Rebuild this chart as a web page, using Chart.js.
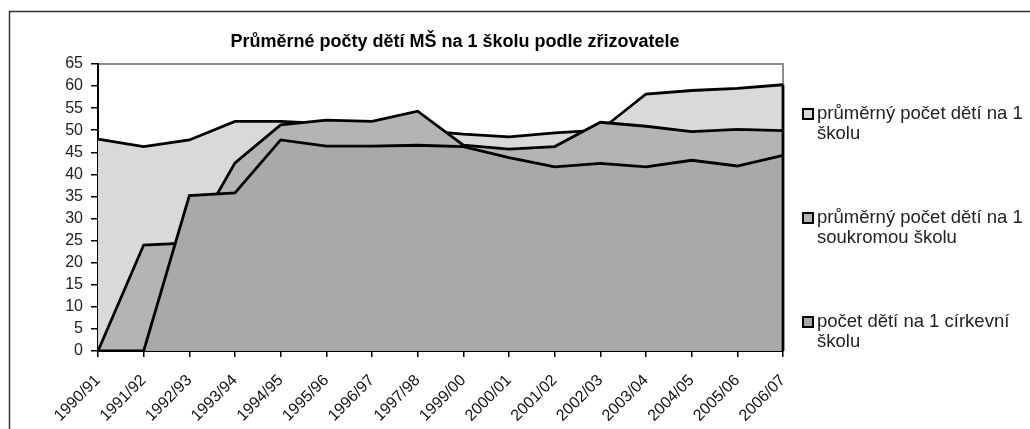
<!DOCTYPE html>
<html>
<head>
<meta charset="utf-8">
<script src="https://cdn.jsdelivr.net/npm/chart.js@4.4.1/dist/chart.umd.min.js"></script>
<style>
  html, body { margin: 0; padding: 0; background: #fff; }
  #wrap { position: relative; width: 1030px; height: 429px; }
</style>
</head>
<body>
<div id="wrap"><canvas id="c" width="1030" height="429"></canvas></div>
<script>
// ---- data ----
const chartTitle = 'Průměrné počty dětí MŠ na 1 školu podle zřizovatele';
const categories = ['1990/91','1991/92','1992/93','1993/94','1994/95','1995/96','1996/97','1997/98',
                    '1999/00','2000/01','2001/02','2002/03','2003/04','2004/05','2005/06','2006/07'];
const seriesNames = [
  ['průměrný počet dětí na 1', 'školu'],
  ['průměrný počet dětí na 1', 'soukromou školu'],
  ['počet dětí na 1 církevní', 'školu']
];
const perSchool   = [48, 46.3, 47.8, 52, 52, 51.5, 51, 50, 49.1, 48.5, 49.4, 50, 58.2, 59, 59.5, 60.3];
const perPrivate  = [0, 24, 24.5, 42.6, 51.2, 52.3, 52, 54.3, 46.6, 45.7, 46.3, 51.8, 50.9, 49.7, 50.2, 49.9];
const perChurch   = [0, 0, 35.2, 35.8, 47.8, 46.4, 46.4, 46.6, 46.3, 43.8, 41.7, 42.5, 41.7, 43.2, 41.9, 44.3];
const yTicks = [0,5,10,15,20,25,30,35,40,45,50,55,60,65];

const fills = ['#d9d9d9', '#b4b4b4', '#a9a9a9'];
const FONT = '"Liberation Sans", Arial, sans-serif';

const decor = {
  id: 'decor',
  beforeDraw(chart) {
    const { ctx, chartArea: a } = chart;
    ctx.save();
    ctx.fillStyle = '#fff';
    ctx.fillRect(0, 0, chart.width, chart.height);
    ctx.strokeStyle = '#333';
    ctx.lineWidth = 1.5;
    ctx.strokeRect(9.5, 11.5, 1200, 600);
    ctx.strokeStyle = '#8c8c8c';
    ctx.lineWidth = 2;
    ctx.strokeRect(a.left, a.top, a.right - a.left, a.bottom - a.top);
    ctx.restore();
  },
  afterDatasetsDraw(chart) {
    const { ctx, chartArea: a, scales } = chart;
    const last = Math.max(perSchool[perSchool.length-1], perPrivate[perPrivate.length-1], perChurch[perChurch.length-1]);
    ctx.save();
    ctx.strokeStyle = '#000';
    ctx.lineWidth = 2.8;
    ctx.beginPath();
    ctx.moveTo(a.right, scales.y.getPixelForValue(last));
    ctx.lineTo(a.right, a.bottom);
    ctx.stroke();
    ctx.restore();
  },
  afterDraw(chart) {
    const { ctx } = chart;
    ctx.save();
    ctx.fillStyle = '#000';
    ctx.font = 'bold 18px ' + FONT;
    ctx.textAlign = 'center';
    ctx.textBaseline = 'middle';
    ctx.fillText(chartTitle, 455, 42);
    const tops = [114, 218, 322];
    ctx.font = '18.5px ' + FONT;
    ctx.textAlign = 'left';
    seriesNames.forEach((lines, i) => {
      const y = tops[i];
      ctx.fillStyle = fills[i];
      ctx.fillRect(803, y - 5, 10, 10);
      ctx.strokeStyle = '#000';
      ctx.lineWidth = 2;
      ctx.strokeRect(803, y - 5, 10, 10);
      ctx.fillStyle = '#222';
      lines.forEach((t, j) => ctx.fillText(t, 817, y + j * 20));
    });
    ctx.restore();
  }
};

const mk = (label, data, i, order) => ({
  label, data, order,
  fill: 'origin',
  backgroundColor: fills[i],
  borderColor: '#000',
  borderWidth: 2.8,
  pointRadius: 0,
  tension: 0
});

new Chart(document.getElementById('c'), {
  type: 'line',
  data: {
    labels: categories,
    datasets: [
      mk(seriesNames[0].join(' '), perSchool, 0, 3),
      mk(seriesNames[1].join(' '), perPrivate, 1, 2),
      mk(seriesNames[2].join(' '), perChurch, 2, 1)
    ]
  },
  plugins: [decor],
  options: {
    responsive: false,
    animation: false,
    layout: { padding: { top: 64, right: 247, left: 0, bottom: 0 } },
    plugins: { legend: { display: false }, title: { display: false }, tooltip: { enabled: false } },
    scales: {
      x: {
        type: 'category',
        offset: false,
        grid: { display: true, drawOnChartArea: false, drawTicks: true, tickLength: 6, color: '#000', lineWidth: 1.5 },
        border: { color: '#000', width: 2 },
        ticks: { autoSkip: false, maxRotation: 45, minRotation: 45, padding: 14, labelOffset: 0,
                 color: '#111', font: { family: FONT, size: 16 } },
        afterFit(s) { s.height = 78; }
      },
      y: {
        min: 0, max: 65,
        afterBuildTicks(s) { s.ticks = yTicks.map(v => ({ value: v })); },
        grid: { display: true, drawOnChartArea: false, drawTicks: true, tickLength: 7, color: '#000', lineWidth: 1.5 },
        border: { color: '#000', width: 2 },
        ticks: { autoSkip: false, padding: 8, color: '#222', font: { family: FONT, size: 16 } },
        afterFit(s) { s.width = 98; }
      }
    }
  }
});
</script>
</body>
</html>
